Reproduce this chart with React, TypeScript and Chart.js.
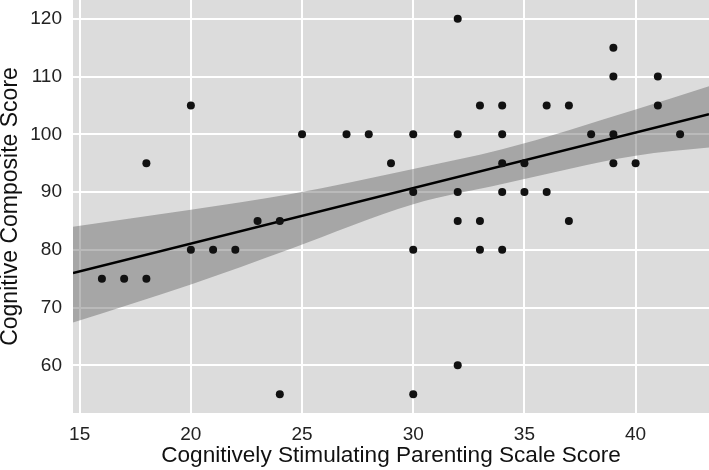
import React, { useEffect, useRef } from "react";
import { Chart, registerables } from "chart.js";

Chart.register(...registerables);

// Scatter points (Cognitively Stimulating Parenting Scale Score, Cognitive Composite Score)
const pointX = [
  32,
  39,
  39, 41,
  20, 33, 34, 36, 37, 41,
  25, 27, 28, 30, 32, 34, 38, 39, 42,
  18, 29, 34, 35, 39, 40,
  30, 32, 34, 35, 36,
  23, 24, 32, 33, 37,
  20, 21, 22, 30, 33, 34,
  16, 17, 18,
  32,
  24, 30,
];
const pointY = [
  120,
  115,
  110, 110,
  105, 105, 105, 105, 105, 105,
  100, 100, 100, 100, 100, 100, 100, 100, 100,
  95, 95, 95, 95, 95, 95,
  90, 90, 90, 90, 90,
  85, 85, 85, 85, 85,
  80, 80, 80, 80, 80, 80,
  75, 75, 75,
  60,
  55, 55,
];

// Regression line (read at the panel edges)
const fitX = [14.7, 43.3];
const fitY = [75.97, 103.47];

// Confidence band
const bandX = [14.7, 20, 24.5, 30, 34, 40, 43.3];
const bandUpper = [84.0, 86.95, 89.65, 94.0, 97.4, 104.3, 108.3];
const bandLower = [67.4, 74.0, 80.2, 87.9, 91.4, 96.3, 97.7];

const xTicks = [15, 20, 25, 30, 35, 40];
const yTicks = [60, 70, 80, 90, 100, 110, 120];
const xRange = [14.7, 43.3];
const yRange = [51.75, 123.25];

const xTitle = "Cognitively Stimulating Parenting Scale Score";
const yTitle = "Cognitive Composite Score";

const FONT = "'Liberation Sans', Arial, sans-serif";

export default function App() {
  const ref = useRef<HTMLCanvasElement | null>(null);

  useEffect(() => {
    if (!ref.current) return;
    const panelBg = {
      id: "panelBg",
      beforeDraw(chart: any) {
        const { ctx, chartArea } = chart;
        ctx.save();
        ctx.fillStyle = "#dcdcdc";
        ctx.fillRect(chartArea.left, chartArea.top, chartArea.right - chartArea.left, chartArea.bottom - chartArea.top);
        ctx.restore();
      },
    };

    const chart = new Chart(ref.current, {
      type: "line",
      data: {
        datasets: [
          {
            label: "points",
            data: pointX.map((x, i) => ({ x, y: pointY[i] })),
            showLine: false,
            pointRadius: 4,
            pointBorderWidth: 0,
            pointBackgroundColor: "#111111",
            pointBorderColor: "#111111",
          },
          {
            label: "fit",
            data: fitX.map((x, i) => ({ x, y: fitY[i] })),
            borderColor: "#000000",
            borderWidth: 2.5,
            pointRadius: 0,
            fill: false,
          },
          {
            label: "upper",
            data: bandX.map((x, i) => ({ x, y: bandUpper[i] })),
            borderWidth: 0,
            borderColor: "rgba(0,0,0,0)",
            pointRadius: 0,
            backgroundColor: "rgba(90,90,90,0.42)",
            fill: "+1",
            cubicInterpolationMode: "monotone",
          },
          {
            label: "lower",
            data: bandX.map((x, i) => ({ x, y: bandLower[i] })),
            borderWidth: 0,
            borderColor: "rgba(0,0,0,0)",
            pointRadius: 0,
            fill: false,
            cubicInterpolationMode: "monotone",
          },
        ],
      },
      options: {
        animation: false,
        responsive: false,
        maintainAspectRatio: false,
        layout: { padding: 0, autoPadding: false },
        plugins: {
          legend: { display: false },
          tooltip: { enabled: false },
        },
        scales: {
          x: {
            type: "linear",
            min: xRange[0],
            max: xRange[1],
            afterBuildTicks: (s: any) => {
              s.ticks = xTicks.map((v) => ({ value: v }));
            },
            afterFit: (s: any) => {
              s.height = 57;
              s.paddingLeft = 0;
              s.paddingRight = 0;
              s.paddingTop = 0;
              s.paddingBottom = 0;
            },
            border: { display: false },
            grid: { color: "#ffffff", lineWidth: 2, drawTicks: false },
            ticks: {
              padding: 10,
              color: "#222222",
              font: { family: FONT, size: 19 },
              maxRotation: 0,
              autoSkip: false,
            },
            title: {
              display: true,
              text: xTitle,
              color: "#111111",
              font: { family: FONT, size: 22.6, lineHeight: 1.24 },
              padding: { top: 0, bottom: 0 },
            },
          },
          y: {
            type: "linear",
            min: yRange[0],
            max: yRange[1],
            afterBuildTicks: (s: any) => {
              s.ticks = yTicks.map((v) => ({ value: v }));
            },
            afterFit: (s: any) => {
              s.width = 73;
              s.paddingLeft = 0;
              s.paddingRight = 0;
              s.paddingTop = 0;
              s.paddingBottom = 0;
            },
            border: { display: false },
            grid: { color: "#ffffff", lineWidth: 2, drawTicks: false },
            ticks: {
              padding: 11,
              color: "#222222",
              font: { family: FONT, size: 19 },
              autoSkip: false,
            },
            title: {
              display: true,
              text: yTitle,
              color: "#111111",
              font: { family: FONT, size: 23, lineHeight: 0.96 },
              padding: { top: 0, bottom: 0 },
            },
          },
        },
      },
      plugins: [panelBg],
    } as any);
    return () => chart.destroy();
  }, []);

  return (
    <div style={{ position: "fixed", left: 0, top: 0, width: 709, height: 470, background: "#ffffff" }}>
      <canvas ref={ref} width={709} height={470} style={{ width: 709, height: 470, display: "block" }} />
    </div>
  );
}
